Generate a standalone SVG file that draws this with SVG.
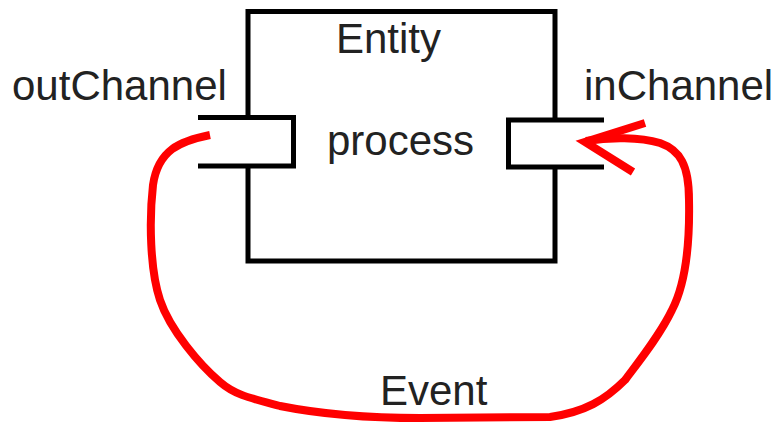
<svg xmlns="http://www.w3.org/2000/svg" width="782" height="426" viewBox="0 0 782 426">
  <style>
    .frame { fill: none; stroke: #000; stroke-width: 5; stroke-linejoin: miter; }
    .label { font-family: "Liberation Sans", Arial, sans-serif; font-size: 42px; fill: #222; }
    .flow { fill: none; stroke: #ff0000; stroke-width: 8; stroke-linejoin: miter; stroke-linecap: butt; }
  </style>
  <rect width="782" height="426" fill="#fff"/>

  <!-- Entity block, sides interrupted where the channel ports sit -->
  <g id="entity">
    <path class="frame" d="M248,117.5 V11.5 H555 V120 M555,167 V261 H248 V166"/>
    <text class="label" x="336" y="53">Entity</text>
    <text class="label" x="327" y="155">process</text>
  </g>

  <!-- Output port on the left side -->
  <g id="outChannel">
    <path class="frame" d="M198,117.5 H293.5 V166 H198"/>
    <text class="label" x="12" y="100">outChannel</text>
  </g>

  <!-- Input port on the right side -->
  <g id="inChannel">
    <path class="frame" d="M604,120 H508.5 V167 H604"/>
    <text class="label" x="584" y="100">inChannel</text>
  </g>

  <!-- Event loop from outChannel back to inChannel -->
  <g id="connectors">
    <path class="flow" d="M210,135 C180,141 158,150 153,185 C149,220 150,270 160,300 C170,330 200,365 220,382 C235,395 250,398 280,406 C330,416 380,418 420,418 L550,417 C585,412 605,400 625,380 C640,360 660,335 672,310 C685,285 690,250 689,200 C689,165 680,150 660,143 C640,137 610,137 586,141"/>
    <path class="flow" d="M645,123 L585,142 L633,172"/>
    <text class="label" x="380" y="405">Event</text>
  </g>
</svg>
